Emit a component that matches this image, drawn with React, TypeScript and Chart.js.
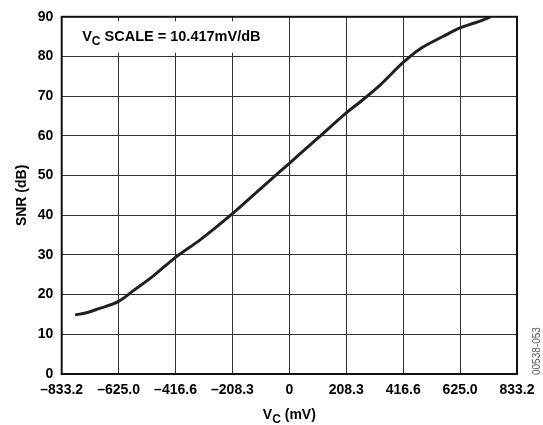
import React, { useEffect, useRef } from "react";
import { Chart, registerables } from "chart.js";

Chart.register(...registerables);

// ---- data ----
const vcValues = [-784, -750, -700, -625, -571, -500, -416.6, -326.6, -208.3, -104, 0, 104, 208.3, 260, 332, 416.6, 478, 564, 625, 680, 735];
const snrValues = [14.9, 15.3, 16.4, 18.3, 21.0, 24.6, 29.4, 33.8, 40.4, 46.8, 53.1, 59.4, 65.8, 68.6, 72.8, 78.5, 81.9, 85.1, 87.2, 88.5, 89.9];

const xTickValues = [-833.2, -625.0, -416.6, -208.3, 0, 208.3, 416.6, 625.0, 833.2];
const xTickLabels = ["–833.2", "–625.0", "–416.6", "–208.3", "0", "208.3", "416.6", "625.0", "833.2"];
const yTickValues = [0, 10, 20, 30, 40, 50, 60, 70, 80, 90];
const yTickLabels = ["0", "10", "20", "30", "40", "50", "60", "70", "80", "90"];

const xTitleParts = ["V", "C", " (mV)"];
const yTitleText = "SNR (dB)";
const noteParts = ["V", "C", " SCALE = 10.417mV/dB"];
const figureId = "00538-053";

const FONT = "'Liberation Sans', Arial, Helvetica, sans-serif";

function drawSubText(
  ctx: CanvasRenderingContext2D,
  parts: string[],
  x: number,
  y: number,
  align: "left" | "center",
  size: number,
  subSize: number,
  subDrop: number
) {
  ctx.save();
  ctx.textBaseline = "alphabetic";
  ctx.textAlign = "left";
  const fMain = `bold ${size}px ${FONT}`;
  const fSub = `bold ${subSize}px ${FONT}`;
  ctx.font = fMain;
  const w0 = ctx.measureText(parts[0]).width;
  const w2 = ctx.measureText(parts[2]).width;
  ctx.font = fSub;
  const w1 = ctx.measureText(parts[1]).width;
  const total = w0 + w1 + w2;
  let cx = align === "center" ? x - total / 2 : x;
  ctx.fillStyle = "#000";
  ctx.font = fMain;
  ctx.fillText(parts[0], cx, y);
  cx += w0;
  ctx.font = fSub;
  ctx.fillText(parts[1], cx, y + subDrop);
  cx += w1;
  ctx.font = fMain;
  ctx.fillText(parts[2], cx, y);
  ctx.restore();
}

const decorPlugin = {
  id: "decor",
  beforeDatasetsDraw(chart: any) {
    const ctx: CanvasRenderingContext2D = chart.ctx;
    const a = chart.chartArea;
    ctx.save();
    ctx.fillStyle = "#fff";
    ctx.fillRect(a.left + 1, a.top + 4.5, 216, 31.5);
    ctx.restore();
    drawSubText(ctx, noteParts, a.left + 20.5, a.top + 24, "left", 14.5, 12, 4);
  },
  afterDraw(chart: any) {
    const ctx: CanvasRenderingContext2D = chart.ctx;
    const a = chart.chartArea;
    // plot frame
    ctx.save();
    ctx.strokeStyle = "#111";
    ctx.lineWidth = 2;
    ctx.strokeRect(a.left, a.top, a.right - a.left, a.bottom - a.top);
    ctx.restore();

    // x title
    drawSubText(ctx, xTitleParts, (a.left + a.right) / 2, 419.3, "center", 14, 12, 4);

    // y title
    ctx.save();
    ctx.translate(25.7, (a.top + a.bottom) / 2);
    ctx.rotate(-Math.PI / 2);
    ctx.font = `bold 14px ${FONT}`;
    ctx.fillStyle = "#000";
    ctx.textAlign = "center";
    ctx.textBaseline = "alphabetic";
    ctx.fillText(yTitleText, 0, 0);
    ctx.restore();

    // figure id
    ctx.save();
    ctx.translate(540.3, 375);
    ctx.rotate(-Math.PI / 2);
    ctx.font = `10px ${FONT}`;
    ctx.fillStyle = "#555";
    ctx.textAlign = "left";
    ctx.textBaseline = "alphabetic";
    ctx.fillText(figureId, 0, 0);
    ctx.restore();
  },
};

export default function App() {
  const canvasRef = useRef<HTMLCanvasElement | null>(null);

  useEffect(() => {
    document.body.style.margin = "0";
    const canvas = canvasRef.current;
    if (!canvas) return;
    const points = vcValues.map((v, i) => ({ x: v, y: snrValues[i] }));
    const chart = new Chart(canvas, {
      type: "scatter",
      data: {
        datasets: [
          {
            data: points,
            showLine: true,
            borderColor: "#231f20",
            borderWidth: 3,
            pointRadius: 0,
            pointHoverRadius: 0,
            cubicInterpolationMode: "monotone",
            fill: false,
          } as any,
        ],
      },
      options: {
        responsive: false,
        animation: false,
        devicePixelRatio: 1,
        layout: { padding: { top: 10.5, right: 26, bottom: 0, left: 0 } },
        plugins: {
          legend: { display: false },
          tooltip: { enabled: false },
          title: { display: false },
        },
        scales: {
          x: {
            type: "linear",
            min: -833.2,
            max: 833.2,
            afterBuildTicks: (scale: any) => {
              scale.ticks = xTickValues.map((v) => ({ value: v }));
            },
            afterFit: (scale: any) => {
              scale.height = 51;
            },
            ticks: {
              autoSkip: false,
              maxRotation: 0,
              padding: 8,
              color: "#000",
              font: { family: FONT, size: 14, weight: "bold" },
              callback: (_v: any, i: number) => xTickLabels[i],
            },
            grid: { color: "#333", lineWidth: 1, drawTicks: false },
            border: { display: false },
          },
          y: {
            type: "linear",
            min: 0,
            max: 90,
            afterBuildTicks: (scale: any) => {
              scale.ticks = yTickValues.map((v) => ({ value: v }));
            },
            afterFit: (scale: any) => {
              scale.width = 61.7;
            },
            ticks: {
              autoSkip: false,
              padding: 8.4,
              color: "#000",
              font: { family: FONT, size: 14, weight: "bold" },
              callback: (_v: any, i: number) => yTickLabels[i],
            },
            grid: { color: "#333", lineWidth: 1, drawTicks: false },
            border: { display: false },
          },
        },
      } as any,
      plugins: [decorPlugin],
    });
    return () => chart.destroy();
  }, []);

  return (
    <div style={{ width: 543, height: 425, background: "#fff" }}>
      <canvas ref={canvasRef} width={543} height={425} style={{ display: "block" }} />
    </div>
  );
}
